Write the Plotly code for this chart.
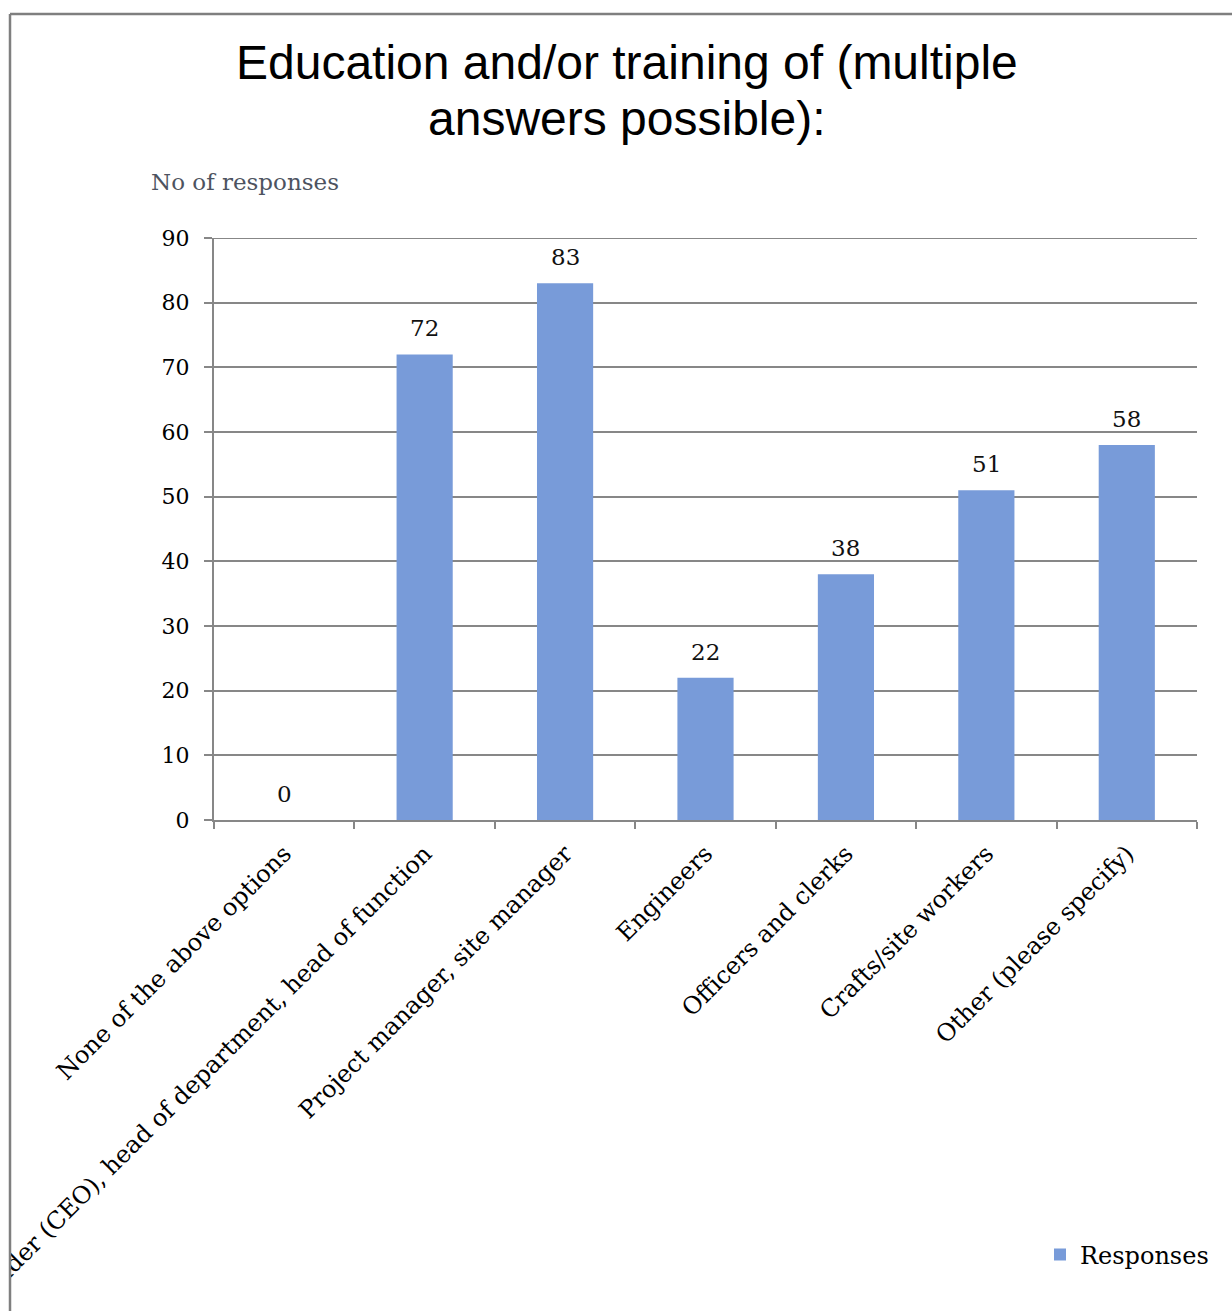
import plotly.graph_objects as go

categories = [
    "None of the above options",
    "Company leader (CEO), head of department, head of function",
    "Project manager, site manager",
    "Engineers",
    "Officers and clerks",
    "Crafts/site workers",
    "Other (please specify)",
]
responses = [0, 72, 83, 22, 38, 51, 58]
y_ticks = [0, 10, 20, 30, 40, 50, 60, 70, 80, 90]
title_lines = ["Education and/or training of (multiple", "answers possible):"]

W, H = 1232, 1311
L, R, T, B = 214, 35, 238, 491
pw, ph = W - L - R, H - T - B

def px(x):
    return (x - L) / pw

def py(y):
    return (H - B - y) / ph

serif = "DejaVu Serif, serif"
grid = "#878787"
frame = "#7f7f7f"

fig = go.Figure()
fig.add_trace(go.Bar(
    x=categories,
    y=responses,
    name="Responses",
    marker=dict(color="#789bd9", line=dict(width=0)),
    width=0.4,
    showlegend=True,
))

# value labels sit just above each bar
annotations = [
    dict(x=c, y=v, xref="x", yref="y", text=str(v), showarrow=False,
         yanchor="bottom", yshift=11,
         font=dict(family=serif, size=23, color="#111111"))
    for c, v in zip(categories, responses)
]

annotations.append(dict(
    text="No of responses",
    x=px(149), xanchor="left", xref="paper",
    y=py(182), yanchor="middle", yref="paper",
    showarrow=False,
    font=dict(family=serif, size=23, color="#4d5360"),
))

for i, line in enumerate(title_lines):
    annotations.append(dict(
        text=line,
        x=px(627), xanchor="center", xref="paper",
        y=py(63 + 55 * i), yanchor="middle", yref="paper",
        showarrow=False,
        font=dict(family="Liberation Sans, Arial, sans-serif", size=48, color="black"),
    ))

fig.update_layout(
    width=W, height=H,
    margin=dict(l=L, r=R, t=T, b=B, autoexpand=False),
    paper_bgcolor="white",
    plot_bgcolor="white",
    xaxis=dict(
        type="category",
        tickangle=-45,
        tickson="boundaries",
        ticks="outside",
        ticklen=7,
        tickwidth=2,
        tickcolor=grid,
        showline=True,
        linecolor=grid,
        linewidth=2,
        showgrid=False,
        automargin=False,
        ticklabelstandoff=8,
        tickfont=dict(family=serif, size=24, color="black"),
    ),
    yaxis=dict(
        range=[0, 90],
        tickvals=y_ticks,
        ticks="outside",
        ticklen=8,
        tickwidth=2,
        tickcolor=grid,
        showline=True,
        linecolor=grid,
        linewidth=2,
        showgrid=True,
        gridcolor=grid,
        gridwidth=2,
        zeroline=False,
        automargin=False,
        ticklabelstandoff=10,
        tickfont=dict(family=serif, size=22, color="black"),
    ),
    legend=dict(
        x=px(1214), xanchor="right",
        y=py(1255), yanchor="middle",
        font=dict(family=serif, size=24, color="black"),
        bgcolor="rgba(0,0,0,0)",
        itemwidth=30,
    ),
    annotations=annotations,
    shapes=[
        # top gridline at the range maximum
        dict(type="line", xref="x domain", yref="y",
             x0=0, x1=1, y0=90, y1=90,
             line=dict(color=grid, width=2), layer="below"),
        # white strip outside the frame, then the frame edges
        dict(type="rect", xref="paper", yref="paper",
             x0=px(-50), x1=px(10), y0=py(H + 50), y1=py(-50),
             fillcolor="white", line=dict(width=0), layer="above"),
        dict(type="line", xref="paper", yref="paper",
             x0=px(10), y0=py(H + 5), x1=px(10), y1=py(14),
             line=dict(color=frame, width=2.5)),
        dict(type="line", xref="paper", yref="paper",
             x0=px(10), y0=py(14), x1=px(W + 5), y1=py(14),
             line=dict(color=frame, width=2.5)),
    ],
)

fig.write_html("out.html")
